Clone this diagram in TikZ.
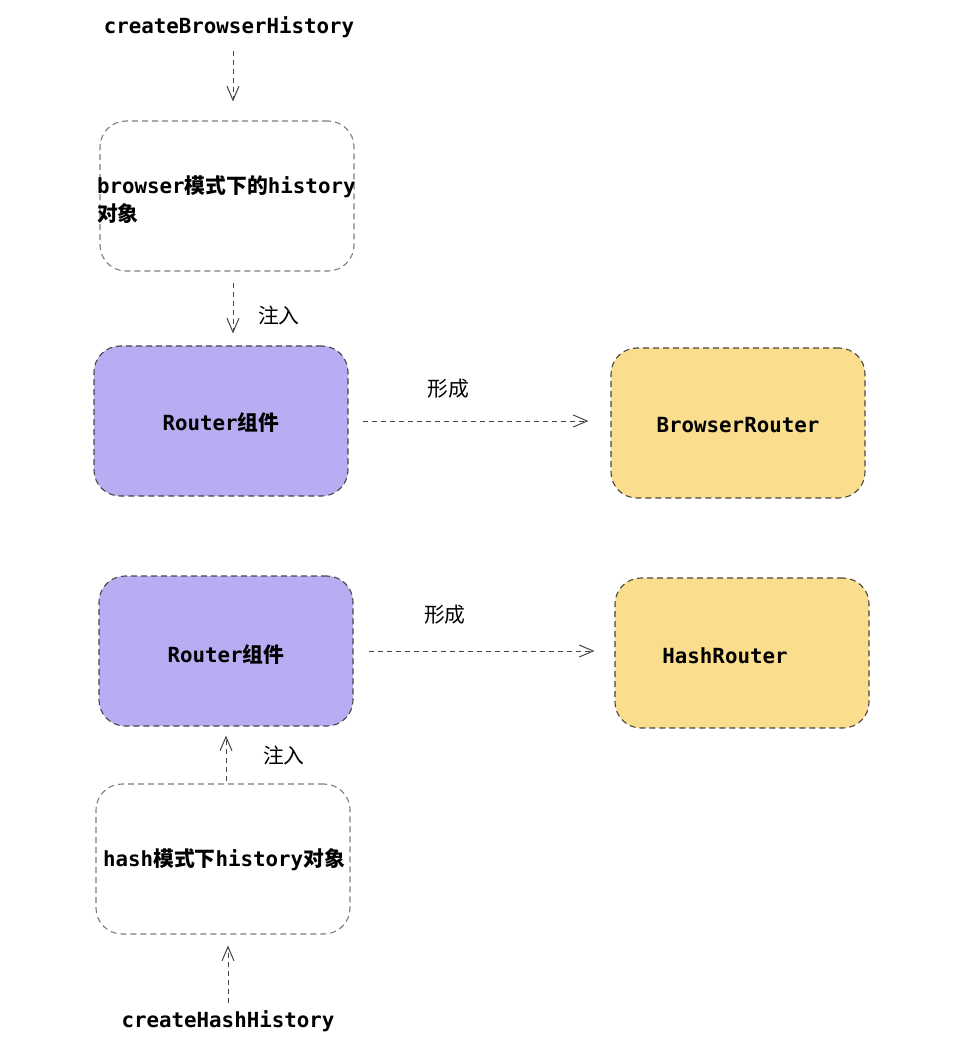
\documentclass[tikz,border=0pt]{standalone}
\usepackage{fontspec}
\setmonofont{DejaVu Sans Mono}
\newfontfamily\cjk{Noto Sans CJK SC}
\usetikzlibrary{arrows.meta}

\definecolor{routerpurple}{RGB}{184,172,242}
\definecolor{routeryellow}{RGB}{250,222,142}
\definecolor{dashgray}{RGB}{125,125,125}
\definecolor{dashdark}{RGB}{70,70,70}

\tikzset{
	histbox/.style={shape=rectangle, rounded corners=13pt, draw=dashgray, dash pattern=on 3pt off 2pt, line width=0.55pt, minimum width=127pt, minimum height=75pt},
	routerbox/.style={histbox, draw=dashdark, fill=routerpurple},
	resultbox/.style={histbox, draw=dashdark, fill=routeryellow},
	flow/.style={draw=dashdark, dash pattern=on 2.5pt off 2pt, line width=0.5pt, -{Straight Barb[length=7pt,width=6pt]}},
	code/.style={font=\fontsize{10.4}{14}\selectfont\ttfamily\bfseries},
	tag/.style={font=\fontsize{10.4}{14}\selectfont\cjk},
}

\begin{document}
\begin{tikzpicture}[x=0.5pt, y=-0.5pt]
	
	\useasboundingbox (0, 0) rectangle (974, 1042);
	
	\node[code] (cbh) at (229, 27)     {createBrowserHistory};
	\node[histbox] (bh) at (227, 196)     {};
	\node[code, anchor=west, align=left] (bhtxt) at (90, 200)     {browser{\cjk 模式下的}history\\{\cjk 对象}};
	\node[routerbox] (r1) at (221, 421)     {};
	\node[code] (r1txt) at (221, 423)     {Router{\cjk 组件}};
	\node[resultbox] (br) at (738, 423)     {};
	\node[code] (brtxt) at (738, 425)     {BrowserRouter};
	
	\node[routerbox] (r2) at (226, 651)     {};
	\node[code] (r2txt) at (226, 655)     {Router{\cjk 组件}};
	\node[resultbox] (hr) at (742, 653)     {};
	\node[code] (hrtxt) at (725, 656)     {HashRouter};
	\node[histbox] (hh) at (223, 859)     {};
	\node[code] (hhtxt) at (224, 860)     {hash{\cjk 模式下}history{\cjk 对象}};
	\node[code] (chh) at (228, 1021)     {createHashHistory};
	
	\path ([xshift=2pt]cbh.south) edge[flow, shorten <=3pt, shorten >=9.5pt] ([xshift=2pt]cbh.south |- bh.north);
	\path ([xshift=3pt]bh.south) edge[flow, shorten <=5.5pt, shorten >=6pt] node[tag, pos=0.6, right=9pt]{注入} ([xshift=3pt]bh.south |- r1.north);
	\path (r1.east) edge[flow, shorten <=7pt, shorten >=11pt] node[tag, pos=0.38, above=8pt]{形成} (r1.east -| br.west);
	\path (r2.east) edge[flow, shorten <=7.5pt, shorten >=10pt] node[tag, pos=0.35, above=10pt]{形成} (r2.east -| hr.west);
	\path ([xshift=1.5pt]hh.north) edge[flow, shorten <=1pt, shorten >=4.5pt] node[tag, pos=0.5, right=15pt]{注入} ([xshift=1.5pt]hh.north |- r2.south);
	\path (chh.north) edge[flow, shorten <=0pt, shorten >=5.5pt] (chh.north |- hh.south);
	
\end{tikzpicture}
\end{document}
